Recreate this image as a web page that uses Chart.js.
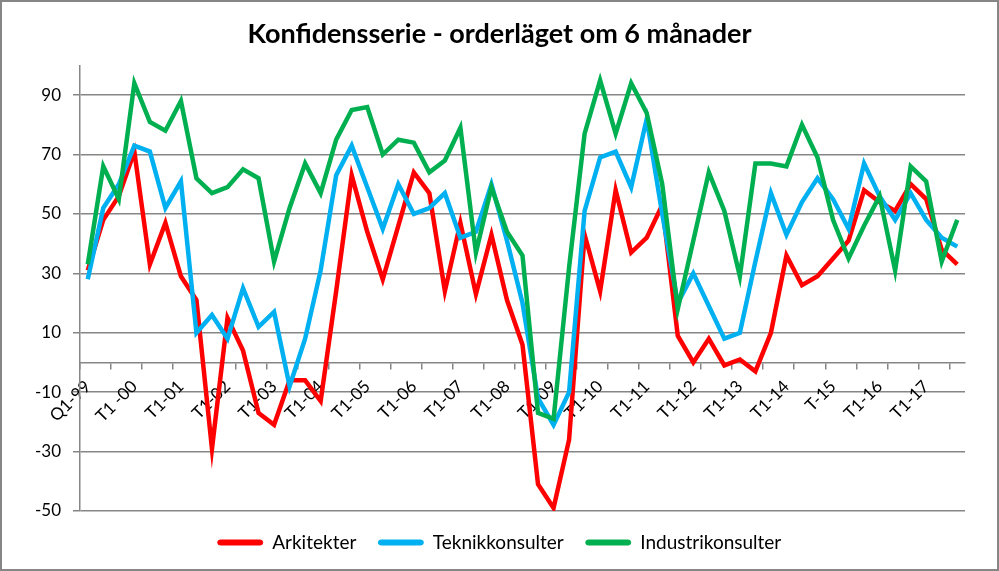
<!DOCTYPE html>
<html lang="sv">
<head>
<meta charset="UTF-8">
<title>Konfidensserie - orderläget om 6 månader</title>
<script src="https://cdn.jsdelivr.net/npm/chart.js"></script>
<style>
  html, body { margin: 0; padding: 0; background: #fff; }
  canvas { display: block; }
</style>
</head>
<body>
<canvas id="chart" width="999" height="571"></canvas>
<script>
// one label per year (three readings a year, tertial)
const yearLabels = ['Q1-99', 'T1 -00', 'T1-01', 'T1-02', 'T1-03', 'T1-04', 'T1-05', 'T1-06', 'T1-07', 'T1-08',
                    'T1-09', 'T1-10', 'T1-11', 'T1-12', 'T1-13', 'T1-14', 'T-15', 'T1-16', 'T1-17'];

const arkitekter = [31, 48, 56, 71, 33, 47, 29, 21, -29, 15, 4, -17, -21, -6, -6, -13, 24, 63, 44, 28,
                    46, 64, 57, 24, 47, 23, 43, 21, 6, -41, -49, -26, 43, 24, 58, 37, 42, 53, 9, 0,
                    8, -1, 1, -3, 10, 36, 26, 29, 35, 41, 58, 54, 51, 60, 55, 38, 33];

const teknikkonsulter = [28, 52, 60, 73, 71, 52, 61, 10, 16, 8, 25, 12, 17, -8, 8, 31, 63, 73, 59, 45,
                         60, 50, 52, 57, 42, 44, 60, 41, 20, -12, -21, -10, 51, 69, 71, 59, 82, 50, 20, 30,
                         19, 8, 10, 34, 57, 43, 54, 62, 55, 45, 67, 56, 48, 57, 48, 42, 39];

const industrikonsulter = [33, 66, 55, 94, 81, 78, 88, 62, 57, 59, 65, 62, 34, 52, 67, 57, 75, 85, 86, 70,
                           75, 74, 64, 68, 79, 37, 59, 44, 36, -17, -19, 32, 77, 95, 77, 94, 84, 60, 18, 41,
                           64, 51, 29, 67, 67, 66, 80, 69, 48, 35, 46, 56, 31, 66, 61, 34, 48];

const yTicks = [-50, -30, -10, 10, 30, 50, 70, 90];

const categories = [];
yearLabels.forEach(l => categories.push(l, '', ''));

const gridGray = '#868686';
const fontFamily = 'Lato, "Open Sans", sans-serif';

// grey frame round the whole picture
const frame = {
    id: 'frame',
    afterDraw(chart) {
        const ctx = chart.ctx;
        ctx.save();
        ctx.strokeStyle = gridGray;
        ctx.lineWidth = 2;
        ctx.strokeRect(1, 1, chart.width - 2, chart.height - 2);
        ctx.restore();
    }
};

function series(label, data, color, order) {
    return {
        label: label,
        data: data,
        borderColor: color,
        backgroundColor: color,
        borderWidth: 4.5,
        pointRadius: 0,
        tension: 0,
        order: order
    };
}

new Chart(document.getElementById('chart'), {
    type: 'line',
    data: {
        labels: categories,
        datasets: [
            series('Arkitekter', arkitekter, '#FF0000', 3),
            series('Teknikkonsulter', teknikkonsulter, '#00B0F0', 2),
            series('Industrikonsulter', industrikonsulter, '#00B050', 1)
        ]
    },
    options: {
        responsive: false,
        animation: false,
        layout: { padding: { top: 0, left: 0, right: 0, bottom: 9 } },
        plugins: {
            title: {
                display: true,
                text: 'Konfidensserie - orderläget om 6 månader',
                color: '#000',
                font: { family: fontFamily, size: 27, weight: 'bold' },
                padding: { top: 18, bottom: 15 }
            },
            legend: {
                position: 'bottom',
                labels: {
                    boxWidth: 45,
                    boxHeight: 5,
                    padding: 22,
                    useBorderRadius: true,
                    borderRadius: 2.5,
                    color: '#000',
                    font: { family: fontFamily, size: 19 },
                    generateLabels: chart => chart.data.datasets.map((d, i) => ({
                        text: d.label,
                        fillStyle: d.borderColor,
                        strokeStyle: d.borderColor,
                        lineWidth: 1,
                        borderRadius: 2.5,
                        datasetIndex: i,
                        hidden: false
                    }))
                }
            },
            tooltip: { enabled: false }
        },
        scales: {
            x: {
                position: { y: 0 },
                offset: true,
                grid: {
                    offset: true,
                    drawOnChartArea: false,
                    tickLength: 6,
                    lineWidth: 1.5,
                    color: c => c.index % 2 === 0 ? gridGray : 'transparent'
                },
                border: { color: gridGray, width: 1.5 },
                ticks: {
                    autoSkip: false,
                    minRotation: 45,
                    maxRotation: 45,
                    padding: 8,
                    color: '#000',
                    font: { family: fontFamily, size: 17 }
                },
                afterFit: s => { s.height = 0; }
            },
            y: {
                min: -50,
                max: 100,
                afterBuildTicks: s => { s.ticks = yTicks.map(v => ({ value: v })); },
                afterFit: s => { s.width = 80; },
                grid: { color: gridGray, lineWidth: 1.5, tickLength: 7 },
                border: { color: gridGray, width: 1.5 },
                ticks: {
                    padding: 12,
                    color: '#000',
                    font: { family: fontFamily, size: 17 }
                }
            },
            // empty right-hand axis, only keeps the white margin right of the plot
            spacer: {
                position: 'right',
                grid: { display: false },
                border: { display: false },
                ticks: { display: false },
                afterFit: s => { s.width = 34; }
            }
        }
    },
    plugins: [frame]
});
</script>
</body>
</html>
